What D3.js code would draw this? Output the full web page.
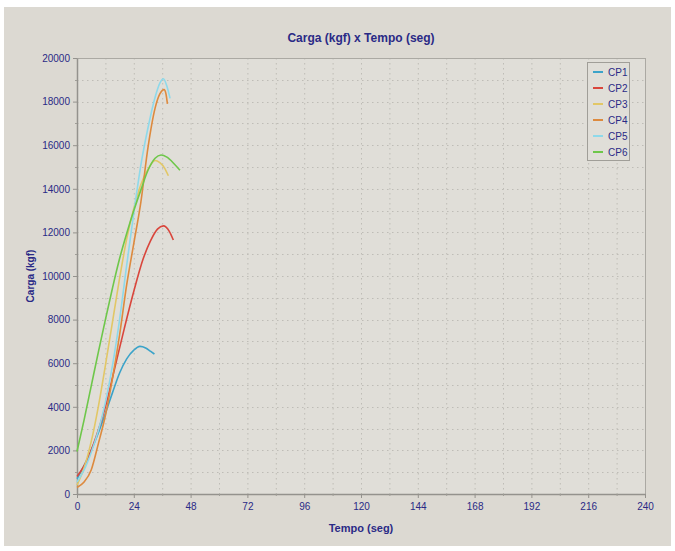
<!DOCTYPE html>
<html>
<head>
<meta charset="utf-8">
<script src="https://cdn.jsdelivr.net/npm/d3@7"></script>
<style>
  html, body { margin: 0; padding: 0; background: #ffffff; }
  svg { display: block; }
  text { font-family: "Liberation Sans", Arial, sans-serif; fill: #2a2a86; }
</style>
</head>
<body>
<svg id="chart" width="675" height="551"></svg>
<script>
// Load tests: time (s) and load (kgf) for each specimen
const seriesNames = ["CP1", "CP2", "CP3", "CP4", "CP5", "CP6"];
const seriesColors = ["#3ba3c9", "#d9463c", "#e2c766", "#dd8a3e", "#8ed9ea", "#6ec74a"];

const cp1Time = [0, 3, 6, 9, 12, 15, 18, 21, 24, 26.6, 29, 31, 32.7];
const cp1Load = [700, 1300, 2000, 2800, 3700, 4650, 5550, 6200, 6600, 6770, 6700, 6550, 6420];

const cp2Time = [0, 4, 8, 12, 16, 20, 24, 28, 31, 34, 36.5, 39, 40.7];
const cp2Load = [800, 1500, 2600, 4000, 5800, 7600, 9300, 10800, 11600, 12150, 12300, 12050, 11650];

const cp3Time = [0, 3, 6, 9, 12, 15, 18, 21, 24, 27, 30, 33, 35, 37, 38.6];
const cp3Load = [400, 1200, 2400, 4000, 5900, 7900, 9900, 11700, 13100, 14200, 14900, 15300, 15200, 14950, 14600];

const cp4Time = [0, 3, 6, 9, 12, 15, 18, 21, 24, 27, 30, 33, 35, 36.8, 37.6, 38.2];
const cp4Load = [300, 550, 1100, 2300, 3600, 5300, 7300, 9600, 11500, 13400, 15900, 17700, 18350, 18550, 18350, 17900];

const cp5Time = [0, 3, 6, 9, 12, 15, 18, 21, 24, 27, 30, 33, 35, 36.5, 38, 39.3];
const cp5Load = [550, 1100, 1900, 2900, 4200, 5900, 8000, 10500, 12900, 15100, 16800, 18200, 18850, 19050, 18700, 18150];

const cp6Time = [0, 3, 6, 9, 12, 15, 18, 21, 24, 27, 30, 33, 35.5, 38, 41, 43.5];
const cp6Load = [1950, 3400, 4950, 6500, 8000, 9450, 10800, 11950, 13000, 13950, 14850, 15400, 15550, 15450, 15150, 14850];

const xTicks = [0, 24, 48, 72, 96, 120, 144, 168, 192, 216, 240];
const yTicks = [0, 2000, 4000, 6000, 8000, 10000, 12000, 14000, 16000, 18000, 20000];

const chartTitle = "Carga (kgf) x Tempo (seg)";
const xTitle = "Tempo (seg)";
const yTitle = "Carga (kgf)";

const times = [cp1Time, cp2Time, cp3Time, cp4Time, cp5Time, cp6Time];
const loads = [cp1Load, cp2Load, cp3Load, cp4Load, cp5Load, cp6Load];
const series = seriesNames.map((name, i) => ({
  name,
  color: seriesColors[i],
  points: times[i].map((t, j) => [t, loads[i][j]])
}));

const svg = d3.select("#chart");
const W = 675, H = 551;
const plot = { left: 77, top: 58, right: 645, bottom: 494 };

// outer panel
svg.append("rect").attr("x", 4).attr("y", 7).attr("width", W - 8).attr("height", H - 12)
  .attr("fill", "#dcd9d2");
svg.append("rect").attr("x", plot.left).attr("y", plot.top)
  .attr("width", plot.right - plot.left).attr("height", plot.bottom - plot.top)
  .attr("fill", "#e0ded8");

const x = d3.scaleLinear().domain([0, 240]).range([plot.left, plot.right]);
const y = d3.scaleLinear().domain([0, 20000]).range([plot.bottom, plot.top]);

// dotted grid, every half step
const grid = svg.append("g").attr("stroke", "#bebcb6").attr("stroke-width", 1)
  .attr("stroke-dasharray", "1.5,3.5");
d3.range(12, 240, 12).forEach(v => {
  grid.append("line").attr("x1", x(v) + 0.5).attr("x2", x(v) + 0.5)
    .attr("y1", plot.top).attr("y2", plot.bottom);
});
d3.range(1000, 20000, 1000).forEach(v => {
  grid.append("line").attr("y1", Math.round(y(v)) + 0.5).attr("y2", Math.round(y(v)) + 0.5)
    .attr("x1", plot.left).attr("x2", plot.right);
});

// plot frame
svg.append("rect").attr("x", plot.left + 0.5).attr("y", plot.top + 0.5)
  .attr("width", plot.right - plot.left).attr("height", plot.bottom - plot.top)
  .attr("fill", "none").attr("stroke", "#aba9a3");

// axes
const xAxis = d3.axisBottom(x).tickValues(xTicks).tickFormat(d3.format("d"))
  .tickSize(4).tickSizeOuter(0).tickPadding(5);
const yAxis = d3.axisLeft(y).tickValues(yTicks).tickFormat(d3.format("d"))
  .tickSize(4).tickSizeOuter(0).tickPadding(3);

const gx = svg.append("g").attr("transform", `translate(0,${plot.bottom})`).call(xAxis);
const gy = svg.append("g").attr("transform", `translate(${plot.left},0)`).call(yAxis);
[gx, gy].forEach(g => {
  g.select(".domain").attr("stroke", "#94928d").attr("stroke-width", 1.5);
  g.selectAll(".tick line").attr("stroke", "#94928d");
  g.selectAll(".tick text").attr("fill", "#2a2a86").attr("font-size", 10)
    .attr("font-family", "Liberation Sans, Arial, sans-serif");
});

// minor ticks
const minor = svg.append("g").attr("stroke", "#a09e98");
d3.range(12, 240, 24).forEach(v => {
  minor.append("line").attr("x1", x(v) + 0.5).attr("x2", x(v) + 0.5)
    .attr("y1", plot.bottom).attr("y2", plot.bottom + 2);
});
d3.range(1000, 20000, 2000).forEach(v => {
  minor.append("line").attr("y1", Math.round(y(v)) + 0.5).attr("y2", Math.round(y(v)) + 0.5)
    .attr("x1", plot.left - 2).attr("x2", plot.left);
});

// series lines
const line = d3.line().x(d => x(d[0])).y(d => y(d[1])).curve(d3.curveMonotoneX);
svg.append("g").selectAll("path").data(series).join("path")
  .attr("d", d => line(d.points))
  .attr("fill", "none")
  .attr("stroke", d => d.color)
  .attr("stroke-width", 1.6)
  .attr("stroke-linejoin", "round");

// titles
svg.append("text").attr("x", (plot.left + plot.right) / 2).attr("y", 42)
  .attr("text-anchor", "middle").attr("font-size", 12).attr("font-weight", "bold")
  .text(chartTitle);
svg.append("text").attr("x", (plot.left + plot.right) / 2).attr("y", 532)
  .attr("text-anchor", "middle").attr("font-size", 11).attr("font-weight", "bold")
  .text(xTitle);
svg.append("text").attr("transform", `translate(34,${(plot.top + plot.bottom) / 2}) rotate(-90)`)
  .attr("text-anchor", "middle").attr("font-size", 10).attr("font-weight", "bold")
  .text(yTitle);

// legend
const lg = svg.append("g").attr("transform", "translate(587,62)");
lg.append("rect").attr("x", 0.5).attr("y", 0.5).attr("width", 42).attr("height", 98)
  .attr("fill", "#e0ded8").attr("stroke", "#a09e98");
series.forEach((s, i) => {
  const cy = 10 + i * 16;
  lg.append("line").attr("x1", 6).attr("x2", 16).attr("y1", cy).attr("y2", cy)
    .attr("stroke", s.color).attr("stroke-width", 2);
  lg.append("text").attr("x", 21).attr("y", cy + 3.5).attr("font-size", 10).text(s.name);
});
</script>
</body>
</html>
